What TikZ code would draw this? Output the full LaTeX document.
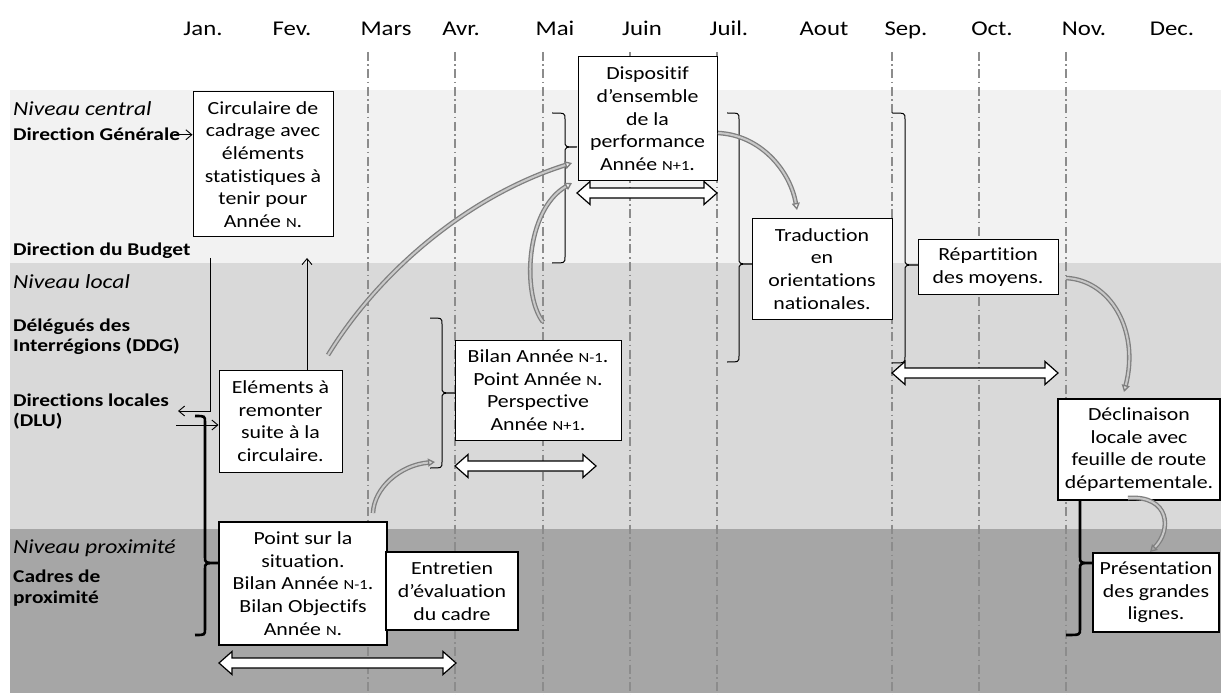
\documentclass[tikz,border=0pt]{standalone}
\usepackage{fontspec}
\setmainfont{Carlito}[FakeStretch=1.18, Ligatures=NoCommon, RawFeature={-clig;-calt}, BoldFeatures={FakeStretch=1.19}]
\usetikzlibrary{arrows.meta}

\definecolor{bandcentral}{HTML}{F2F2F2}
\definecolor{bandlocal}{HTML}{D9D9D9}
\definecolor{bandprox}{HTML}{A6A6A6}
\definecolor{gridgray}{HTML}{8C8C8C}
\definecolor{curvegray}{HTML}{7F7F7F}
\definecolor{curvelight}{HTML}{C8C8C8}

\newcommand{\petit}[1]{{\fontsize{14}{14}\selectfont #1}}
\newcommand{\boxfont}{\fontsize{18.5}{22.7}\selectfont}

% accolade: [style]{x0}{x1}{xtip}{ytop}{ytip}{ybot}
\newcommand{\accol}[7][accolade]{%
  \draw[#1] (#2,#5) .. controls (#3,#5) .. (#3,{#5+6}) -- (#3,{#6-6})
    .. controls (#3,#6) .. (#4,#6) .. controls (#3,#6) .. (#3,{#6+6})
    -- (#3,{#7-6}) .. controls (#3,#7) .. (#2,#7);}
% double block arrow: {x1}{x2}{y}
\newcommand{\periode}[3]{%
  \draw[duree] (#1,#3) -- ({#1+13},{#3-11.5}) -- ({#1+13},{#3-5})
    -- ({#2-13},{#3-5}) -- ({#2-13},{#3-11.5}) -- (#2,#3)
    -- ({#2-13},{#3+11.5}) -- ({#2-13},{#3+5}) -- ({#1+13},{#3+5})
    -- ({#1+13},{#3+11.5}) -- cycle;}

\tikzset{
  month/.style={anchor=base, font=\fontsize{21}{24}\selectfont},
  level/.style={anchor=base west, inner sep=1pt, font=\fontsize{20}{24}\selectfont\itshape},
  actor/.style={anchor=base west, inner sep=1pt, align=left, font=\fontsize{18}{20.5}\selectfont\bfseries},
  etape/.style={draw, fill=white, line width=1pt, align=center, inner sep=0pt, font=\boxfont},
  etapeforte/.style={etape, line width=2.6pt},
  grille/.style={gridgray, line width=1.1pt, dash pattern=on 9pt off 3.5pt on 1.5pt off 3.5pt},
  fleche/.style={line width=0.9pt, -{Straight Barb[length=6pt,width=10pt]}},
  accolade/.style={line width=1pt},
  accoladeforte/.style={line width=2.6pt},
  duree/.style={draw, fill=white, line width=1.2pt, line join=miter},
  renvoi/.style={draw=curvegray, double=curvelight, double distance=2pt, line width=1.3pt,
    -{Triangle[open,length=7pt,width=8pt]}}
}

\begin{document}
\begin{tikzpicture}[x=1pt, y=-1pt]
\useasboundingbox (0,0) rectangle (1221,695);
% bands
\fill[bandcentral] (10,90) rectangle (1221,263);
\fill[bandlocal] (10,263) rectangle (1221,529);
\fill[bandprox] (10,529) rectangle (1221,693);

% months
\foreach \m/\x in {Jan./203, Fev./292, Mars/386, Avr./461, Mai/555, Juin/642,
  Juil./729, Aout/824, Sep./906, Oct./992, Nov./1084, Dec./1172}
  \node[month] (m-\x) at (\x,36) {\m};
\foreach \x in {368,455,543,630,717,892,979,1066}
  \draw[grille] (\x,52) -- (\x,695);

% left labels (multi-line: y is the baseline of the last line)
\node[level] (central) at (12,116) {Niveau central};
\node[actor] (dg) at (12,141) {Direction Générale};
\node[actor] (db) at (12,255) {Direction du Budget};
\node[level] (local) at (12,288) {Niveau local};
\node[actor] (ddg) at (12,351.7) {Délégués des\\Interrégions (DDG)};
\node[actor] (dlu) at (12,426.7) {Directions locales\\(DLU)};
\node[level] (prox) at (12,553) {Niveau proximité};
\node[actor] (cadres) at (12,603) {Cadres de\\proximité};

% accolades
\accol[accoladeforte]{195}{205}{219}{416}{563}{635}
\accol[accoladeforte]{1066}{1080}{1093}{490}{563}{635}
\accol{430}{442}{455}{318}{393}{468}
\accol{552}{565}{577}{113}{147}{263}
\accol{727}{739}{752}{113}{264}{362}
\accol{892}{905}{918}{113}{265}{363}

% boxes
\node[etape, minimum width=140pt, minimum height=145pt] (circ) at (263,164.5)
  {Circulaire de\\cadrage avec\\éléments\\statistiques à\\tenir pour\\Année \petit{N}.};
\node[etape, minimum width=123pt, minimum height=102pt] (elem) at (280.5,421)
  {Eléments à\\remonter\\suite à la\\circulaire.};
\node[etapeforte, minimum width=168pt, minimum height=123pt] (point) at (303,583.5)
  {Point sur la\\situation.\\Bilan Année \petit{N-1}.\\Bilan Objectifs\\Année \petit{N}.};
\node[etapeforte, minimum width=132pt, minimum height=78pt] (entretien) at (452,591)
  {Entretien\\d’évaluation\\du cadre};
\node[etape, minimum width=166pt, minimum height=100pt] (bilan) at (538,390)
  {Bilan Année \petit{N-1}.\\Point Année \petit{N}.\\Perspective\\Année \petit{N+1}.};
\node[etape, minimum width=139pt, minimum height=124pt] (dispo) at (647.5,119)
  {Dispositif\\d’ensemble\\de la\\performance\\Année \petit{N+1}.};
\node[etape, minimum width=140pt, minimum height=100pt] (trad) at (822,269)
  {Traduction\\en\\orientations\\nationales.};
\node[etape, minimum width=140pt, minimum height=54pt] (repart) at (988,267)
  {Répartition\\des moyens.};
\node[etape, line width=1.3pt, minimum width=162pt, minimum height=101pt] (declin) at (1139,449.5)
  {Déclinaison\\locale avec\\feuille de route\\départementale.};
\node[etapeforte, minimum width=126pt, minimum height=79pt] (pres) at (1156,592.5)
  {Présentation\\des grandes\\lignes.};

% connectors
\draw[fleche] ([xshift=-7pt]dg.east) -- (dg.east -| circ.west);
\coordinate (descente) at (210,258);
\coordinate (versdlu) at (178,411);
\draw[fleche] (descente) |- (versdlu);
\coordinate (depuisdlu) at (176,425);
\draw[fleche] (depuisdlu) -- (depuisdlu -| elem.west);
\coordinate (remontee) at (307,258);
\draw[fleche] (remontee |- elem.north) -- (remontee);

% periods
\periode{219}{456}{663}
\periode{455}{596}{466}
\periode{577}{717}{193}
\periode{892}{1058}{373}

% gray curved arrows
\coordinate (r1a) at (328,355);  \coordinate (r1b) at (572,163);
\draw[renvoi] (r1a) .. controls (380,270) and (470,195) .. (r1b);
\coordinate (r2a) at (543,322);  \coordinate (r2b) at (572,183);
\draw[renvoi] (r2a) .. controls (522,295) and (525,210) .. (r2b);
\coordinate (r3a) at (718,133);  \coordinate (r3b) at (797,210);
\draw[renvoi] (r3a) .. controls (760,135) and (790,170) .. (r3b);
\coordinate (r4a) at (1066,278); \coordinate (r4b) at (1124,392);
\draw[renvoi] (r4a) .. controls (1110,280) and (1140,330) .. (r4b);
\coordinate (r5a) at (1128,498); \coordinate (r5b) at (1150,552);
\draw[renvoi] (r5a) .. controls (1170,495) and (1172,530) .. (r5b);
\coordinate (r6a) at (373,513);  \coordinate (r6b) at (435,462);
\draw[renvoi] (r6a) .. controls (374,488) and (400,465) .. (r6b);
\end{tikzpicture}
\end{document}
